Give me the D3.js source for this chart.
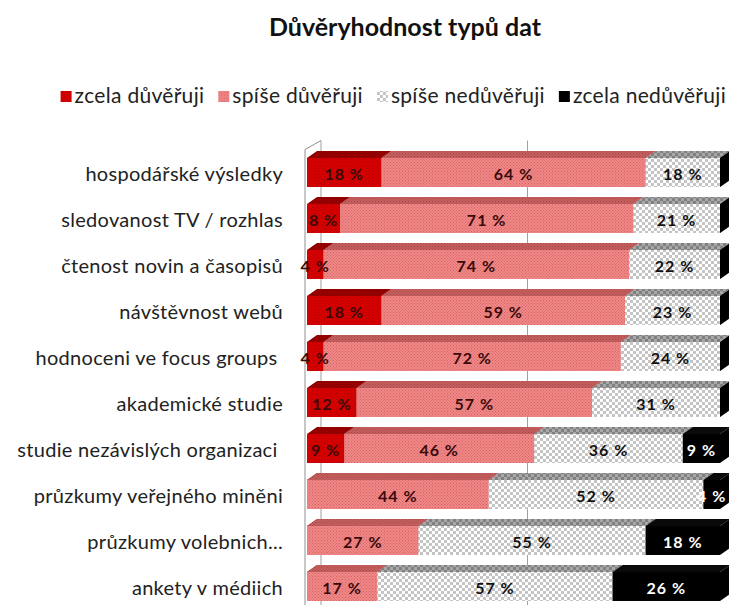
<!DOCTYPE html>
<html>
<head>
<meta charset="utf-8">
<script src="https://cdn.jsdelivr.net/npm/d3@7"></script>
<style>
  body { margin: 0; background: #fff; }
  svg { display: block; }
</style>
</head>
<body>
<div id="vis"></div>
<script>
// data
var categories = [
  "hospodářské výsledky",
  "sledovanost TV / rozhlas",
  "čtenost novin a časopisů",
  "návštěvnost webů",
  "hodnoceni ve focus groups\u00a0",
  "akademické studie",
  "studie nezávislých organizaci\u00a0",
  "průzkumy veřejného miněni",
  "průzkumy volebnich...",
  "ankety v médiich"
];
var seriesNames = ["zcela důvěřuji", "spíše důvěřuji", "spíše nedůvěřuji", "zcela nedůvěřuji"];
var zcelaDuveruji    = [18, 8, 4, 18, 4, 12, 9, 0, 0, 0];
var spiseDuveruji    = [64, 71, 74, 59, 72, 57, 46, 44, 27, 17];
var spiseNeduveruji  = [18, 21, 22, 23, 24, 31, 36, 52, 55, 57];
var zcelaNeduveruji  = [0, 0, 0, 0, 0, 0, 9, 4, 18, 26];
var gridTicks = [0, 50, 100];

var width = 729, height = 605;
var depthX = 10, depthY = 7;    // bar depth
var wallX = 14, wallY = 9;      // back wall offset

var svg = d3.select('#vis')
    .append('svg')
    .attr('width', width)
    .attr('height', height)
    .style('font-family', 'Lato, "Open Sans", sans-serif');

// patterns
var defs = svg.append('defs');
function dotted(id, base, dot) {
  var p = defs.append('pattern').attr('id', id).attr('patternUnits', 'userSpaceOnUse')
    .attr('width', 3).attr('height', 3);
  p.append('rect').attr('width', 3).attr('height', 3).attr('fill', base);
  p.append('rect').attr('x', 0).attr('y', 0).attr('width', 1).attr('height', 1).attr('fill', dot);
  p.append('rect').attr('x', 1.5).attr('y', 1.5).attr('width', 1).attr('height', 1).attr('fill', dot);
}
function checker(id, light, dark) {
  var p = defs.append('pattern').attr('id', id).attr('patternUnits', 'userSpaceOnUse')
    .attr('width', 6).attr('height', 6);
  p.append('rect').attr('width', 6).attr('height', 6).attr('fill', light);
  p.append('rect').attr('x', 0).attr('y', 0).attr('width', 3).attr('height', 3).attr('fill', dark);
  p.append('rect').attr('x', 3).attr('y', 3).attr('width', 3).attr('height', 3).attr('fill', dark);
}
dotted('redF', '#d80000', '#b00000');
dotted('redT', '#9a0000', '#7a0000');
dotted('pinkF', '#f08888', '#d66262');
dotted('pinkT', '#c45f5f', '#a84848');
checker('grayF', '#ffffff', '#c4c4c4');
checker('grayT', '#a8a8a8', '#808080');

var faces = [
  { front: 'url(#redF)', top: 'url(#redT)', side: '#a00000', text: '#3a0a0a' },
  { front: 'url(#pinkF)', top: 'url(#pinkT)', side: '#b85555', text: '#3a0a0a' },
  { front: 'url(#grayF)', top: 'url(#grayT)', side: '#8c8c8c', text: '#111' },
  { front: '#000', top: '#0a0a0a', side: '#000', text: '#fff' }
];

var x = d3.scaleLinear().domain([0, 100]).range([307, 720]);
var y = d3.scaleBand().domain(categories)
    .range([149.5, 609.5])
    .paddingInner(0.37)
    .paddingOuter(0.185);

// title
svg.append('text')
    .attr('x', 405).attr('y', 36)
    .attr('text-anchor', 'middle')
    .style('font-size', '25px').style('font-weight', 'bold').style('fill', '#111')
    .text('Důvěryhodnost typů dat');

// legend, laid out right to left so it ends at the right edge
var legend = svg.append('g').selectAll('g').data(seriesNames).enter().append('g');
legend.append('rect')
    .attr('x', 0).attr('y', -7).attr('width', 11).attr('height', 11)
    .attr('fill', function(d, i) { return faces[i].front; });
legend.append('text')
    .attr('x', 14).attr('y', 5)
    .style('font-size', '21px').style('fill', '#222')
    .style('letter-spacing', '0.3px')
    .text(function(d) { return d; });
var lx = 726;
var widths = [];
legend.select('text').each(function() { widths.push(this.getComputedTextLength() + 14); });
var lpos = [];
for (var i = widths.length - 1; i >= 0; i--) {
  lx -= widths[i];
  lpos[i] = lx;
  lx -= 14;
}
legend.attr('transform', function(d, i) { return 'translate(' + lpos[i] + ',98)'; });

// back wall gridlines and left wall
var chart = svg.append('g');
chart.selectAll('.grid').data(gridTicks).enter().append('line')
    .attr('class', 'grid')
    .attr('x1', function(d) { return x(d) + wallX; })
    .attr('x2', function(d) { return x(d) + wallX; })
    .attr('y1', 149.5 - wallY).attr('y2', height)
    .attr('stroke', '#a0a0a0').attr('stroke-width', 1);
chart.append('line')
    .attr('x1', x(0) - 2).attr('x2', x(0) - 2)
    .attr('y1', 149.5).attr('y2', height)
    .attr('stroke', '#909090');
chart.append('line')
    .attr('x1', x(0) - 2).attr('x2', x(0) + wallX)
    .attr('y1', 149.5).attr('y2', 149.5 - wallY)
    .attr('stroke', '#909090');

// stacked rows
var allSeries = [zcelaDuveruji, spiseDuveruji, spiseNeduveruji, zcelaNeduveruji];
var rows = categories.map(function(c, i) {
  var acc = 0;
  return allSeries.map(function(s, k) {
    var seg = { cat: c, k: k, x0: acc, x1: acc + s[i], v: s[i] };
    acc += s[i];
    return seg;
  });
});

var bh = y.bandwidth();
rows.forEach(function(row) {
  var g = chart.append('g');
  row.forEach(function(s) {
    var x0 = x(s.x0), x1 = x(s.x1), top = y(s.cat), f = faces[s.k];
    if (s.v > 0) {
      g.append('path')
        .attr('d', 'M' + x0 + ',' + top + 'L' + (x0 + depthX) + ',' + (top - depthY) +
              'L' + (x1 + depthX) + ',' + (top - depthY) + 'L' + x1 + ',' + top + 'Z')
        .attr('fill', f.top);
      g.append('rect')
        .attr('x', x0).attr('y', top).attr('width', x1 - x0).attr('height', bh)
        .attr('fill', f.front);
    }
    // right end face
    g.append('path')
      .attr('d', 'M' + x1 + ',' + top + 'L' + (x1 + depthX) + ',' + (top - depthY) +
            'L' + (x1 + depthX) + ',' + (top + bh - depthY) + 'L' + x1 + ',' + (top + bh) + 'Z')
      .attr('fill', f.side);
  });
  row.forEach(function(s) {
    if (s.v <= 0) return;
    g.append('text')
      .attr('x', (x(s.x0) + x(s.x1)) / 2)
      .attr('y', y(s.cat) + bh / 2 + 7)
      .attr('text-anchor', 'middle')
      .style('font-size', '16px').style('font-weight', 'bold')
      .style('letter-spacing', '1px')
      .style('fill', faces[s.k].text)
      .text(s.v + ' %');
  });
});

// category labels
chart.selectAll('.cat').data(categories).enter().append('text')
    .attr('class', 'cat')
    .attr('x', 283)
    .attr('y', function(d) { return y(d) + bh / 2 + 8; })
    .attr('text-anchor', 'end')
    .style('font-size', '20px').style('fill', '#222')
    .style('letter-spacing', '0.3px')
    .style('white-space', 'pre')
    .text(function(d) { return d; });
</script>
</body>
</html>
